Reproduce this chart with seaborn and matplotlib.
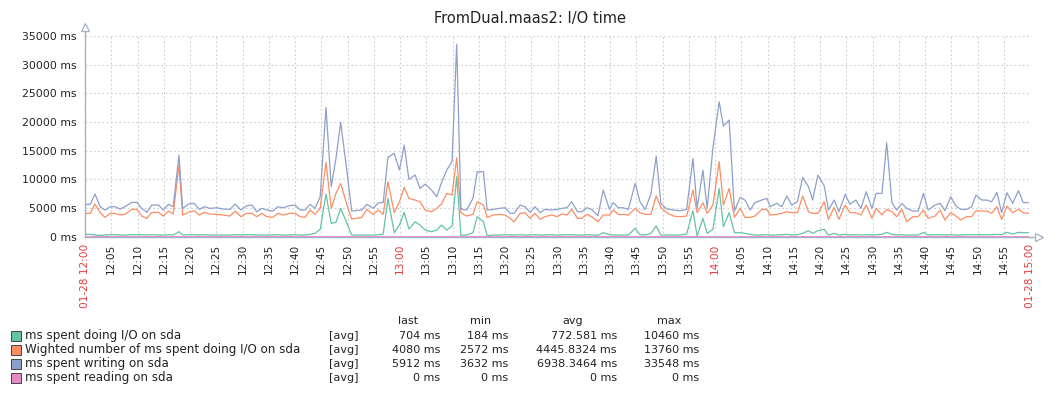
import matplotlib
matplotlib.use("Agg")
import matplotlib.pyplot as plt
from matplotlib.patches import Rectangle
import seaborn as sns
import pandas as pd

# ---------------- data ----------------
minutes = [
    0.0, 1.0, 1.9, 2.9, 3.8, 4.8, 5.7, 6.7, 7.6, 8.9,
    9.9, 10.8, 11.8, 12.7, 14.0, 14.9, 15.9, 16.8, 17.9, 18.6,
    19.7, 20.8, 21.8, 22.7, 23.8, 25.1, 26.3, 27.6, 28.6, 29.7,
    30.8, 31.8, 32.7, 33.7, 34.6, 35.8, 36.7, 37.8, 38.9, 40.0,
    41.0, 41.9, 42.9, 43.8, 44.8, 45.9, 46.9, 47.8, 48.7, 49.9,
    50.8, 52.7, 53.7, 54.9, 55.9, 56.8, 57.7, 58.9, 59.9, 60.8,
    61.7, 62.9, 63.8, 64.8, 66.0, 67.0, 67.9, 68.9, 69.9, 70.8,
    71.6, 72.7, 73.9, 74.7, 75.9, 76.6, 77.8, 78.9, 80.0, 81.0,
    81.7, 82.9, 83.8, 84.8, 85.7, 86.7, 87.6, 88.9, 89.9, 90.8,
    91.8, 92.7, 93.8, 94.6, 95.6, 96.5, 97.7, 98.7, 99.9, 100.6,
    101.6, 102.5, 103.5, 104.8, 105.7, 106.7, 107.8, 108.8, 109.7, 110.8,
    112.1, 113.3, 114.6, 115.8, 116.6, 117.7, 118.5, 119.6, 120.8, 121.6,
    122.7, 123.7, 124.8, 125.7, 126.7, 127.6, 128.9, 129.9, 130.5, 131.8,
    132.7, 133.7, 134.6, 135.7, 136.7, 137.8, 138.6, 139.6, 140.8, 141.6,
    142.7, 143.6, 144.8, 145.7, 146.8, 147.8, 148.8, 149.9, 150.7, 151.8,
    152.7, 153.7, 154.6, 155.6, 156.5, 157.7, 158.7, 159.7, 160.6, 161.9,
    162.9, 163.8, 164.9, 165.9, 166.8, 167.9, 168.9, 169.7, 170.8, 171.8,
    172.7, 173.7, 174.6, 175.6, 176.7, 177.8, 178.7, 179.7,
]

io_ms = [
    410, 410, 290, 230, 290, 350, 350, 290, 290, 350,
    350, 350, 290, 350, 290, 290, 350, 290, 870, 290,
    350, 350, 290, 350, 290, 290, 290, 290, 350, 290,
    350, 350, 290, 290, 290, 290, 350, 290, 290, 350,
    290, 290, 410, 580, 1280, 7440, 2320, 2500, 4940, 2320,
    290, 290, 290, 290, 350, 460, 6680, 700, 2030, 4240,
    1340, 2610, 2030, 1160, 870, 1160, 2030, 1160, 1860, 10460,
    240, 290, 700, 3490, 2610, 184, 290, 290, 350, 290,
    290, 350, 290, 290, 350, 290, 290, 350, 290, 290,
    350, 350, 290, 290, 350, 290, 230, 700, 350, 290,
    290, 290, 290, 1460, 350, 290, 580, 1870, 290, 290,
    290, 290, 460, 4530, 120, 3200, 580, 1280, 8420, 1740,
    4180, 700, 700, 580, 410, 290, 290, 350, 290, 290,
    350, 410, 290, 350, 580, 1050, 580, 1050, 1280, 290,
    580, 290, 410, 290, 350, 290, 350, 290, 350, 410,
    760, 410, 290, 350, 290, 290, 290, 760, 290, 350,
    350, 290, 350, 290, 290, 350, 350, 350, 350, 350,
    350, 410, 350, 760, 470, 760, 700, 704,
]

weighted_ms = [
    4070, 4070, 5690, 4180, 3370, 4070, 4070, 3780, 3890, 4760,
    4760, 3600, 3200, 4240, 4240, 3600, 4470, 3950, 12490, 3780,
    4240, 4530, 3780, 4240, 3950, 3890, 3780, 3600, 4470, 3490,
    4070, 4070, 3490, 4070, 3490, 3370, 4070, 3780, 4070, 4070,
    3490, 3370, 4650, 3890, 4940, 12960, 4940, 7550, 9300, 5520,
    3080, 3370, 4760, 3890, 4650, 3890, 9590, 4180, 6100, 8600,
    6680, 6390, 6100, 4650, 4360, 4940, 5690, 7550, 7260, 13760,
    4180, 3600, 3890, 6100, 5520, 3370, 3780, 3890, 3780, 3200,
    2572, 4070, 4180, 3200, 4070, 3020, 3490, 3780, 3490, 3950,
    3780, 4760, 3200, 3200, 3890, 3490, 2610, 3780, 3780, 4650,
    3890, 3890, 3780, 4940, 4180, 3890, 3890, 7090, 5110, 4180,
    3600, 3490, 3600, 8130, 4180, 5930, 4070, 5520, 13070, 5520,
    8420, 3370, 4940, 3370, 3370, 3600, 4760, 4760, 3780, 3890,
    4070, 4360, 4180, 4180, 7090, 4360, 4070, 4070, 6100, 3020,
    5110, 3020, 5520, 4180, 4180, 3780, 5520, 3200, 4940, 3780,
    4760, 4360, 3490, 4760, 2610, 3490, 3490, 4650, 3200, 3600,
    4650, 2900, 4180, 3600, 2900, 3490, 3490, 4530, 4470, 4470,
    4070, 5230, 3020, 5350, 4180, 4760, 4180, 4080,
]

write_ms = [
    5640, 5640, 7440, 5230, 4650, 5230, 5230, 4820, 5230, 5980,
    5980, 4940, 4240, 5520, 5520, 4650, 5640, 5230, 14230, 4940,
    5690, 5810, 4760, 5230, 4940, 5050, 4820, 4760, 5690, 4650,
    5400, 5520, 4360, 4940, 4650, 4470, 5230, 5050, 5400, 5520,
    4650, 4650, 5640, 4940, 6970, 22540, 8720, 13650, 19930, 11330,
    4470, 4650, 5640, 4940, 5930, 5930, 13830, 14530, 11620, 15980,
    9990, 10750, 8420, 9180, 8130, 6970, 9410, 11620, 13070, 33548,
    4820, 4650, 6680, 11330, 11330, 4650, 4760, 4940, 5050, 4070,
    4070, 5520, 5230, 4240, 5230, 4180, 4760, 4650, 4760, 4940,
    5050, 6100, 4360, 4360, 5050, 4760, 3632, 8130, 4760, 5930,
    5050, 5050, 4760, 9300, 6100, 4760, 7440, 14060, 5810, 4820,
    4650, 4530, 4760, 13650, 4940, 11620, 4940, 15400, 23530, 19290,
    20340, 4470, 6860, 6390, 4650, 5930, 6390, 6680, 5230, 5810,
    5230, 7090, 5520, 6100, 10340, 8720, 6390, 10750, 8890, 4650,
    6390, 4360, 7380, 5640, 6390, 4940, 7840, 4940, 7550, 7550,
    16380, 5930, 4650, 5810, 4940, 4470, 4470, 7550, 4650, 5520,
    5810, 4530, 6970, 5350, 4760, 4760, 5230, 7260, 6390, 6390,
    6100, 7730, 4180, 7670, 5810, 8020, 5980, 5912,
]

read_ms = [0] * len(minutes)

series_names = [
    "ms spent doing I/O on sda",
    "Wighted number of ms spent doing I/O on sda",
    "ms spent writing on sda",
    "ms spent reading on sda",
]

stat_last = ["704 ms", "4080 ms", "5912 ms", "0 ms"]
stat_min = ["184 ms", "2572 ms", "3632 ms", "0 ms"]
stat_avg = ["772.581 ms", "4445.8324 ms", "6938.3464 ms", "0 ms"]
stat_max = ["10460 ms", "13760 ms", "33548 ms", "0 ms"]

y_ticks = [0, 5000, 10000, 15000, 20000, 25000, 30000, 35000]
y_tick_labels = ["0 ms", "5000 ms", "10000 ms", "15000 ms", "20000 ms",
                 "25000 ms", "30000 ms", "35000 ms"]

x_tick_labels = [
    "01-28 12:00", "12:05", "12:10", "12:15", "12:20", "12:25", "12:30",
    "12:35", "12:40", "12:45", "12:50", "12:55", "13:00", "13:05", "13:10",
    "13:15", "13:20", "13:25", "13:30", "13:35", "13:40", "13:45", "13:50",
    "13:55", "14:00", "14:05", "14:10", "14:15", "14:20", "14:25", "14:30",
    "14:35", "14:40", "14:45", "14:50", "14:55", "01-28 15:00",
]
x_ticks = list(range(0, 181, 5))
red_labels = {"01-28 12:00", "13:00", "14:00", "01-28 15:00"}

# ---------------- figure ----------------
sns.set_theme(style="white")
plt.rcParams["font.family"] = ["DejaVu Sans"]

W, H = 1060, 396
fig = plt.figure(figsize=(W / 100, H / 100), dpi=100)
fig.patch.set_facecolor("white")

x0, x1 = 85, 1030
y0, y1 = 236.7, 36.0
ax = fig.add_axes([x0 / W, 1 - y0 / H, (x1 - x0) / W, (y0 - y1) / H])

palette = sns.color_palette("Set2", 4)
frames = []
for name, vals in zip(series_names, [io_ms, weighted_ms, write_ms, read_ms]):
    frames.append(pd.DataFrame({"minute": minutes, "value": vals, "series": name}))
df = pd.concat(frames, ignore_index=True)

widths = [0.9, 0.9, 0.9, 2.0]
for i, name in enumerate(series_names):
    sns.lineplot(data=df[df["series"] == name], x="minute", y="value",
                 color=palette[i], linewidth=widths[i], ax=ax,
                 legend=False, zorder=3 + i)

ax.set_xlim(0, 180)
ax.set_ylim(0, 35000)
ax.set_xticks(x_ticks)
ax.set_xticklabels(x_tick_labels, rotation=90, fontsize=7.6, va="top", ha="center")
ax.set_yticks(y_ticks)
ax.set_yticklabels(y_tick_labels, fontsize=7.8, color="#222222")
ax.set_xlabel("")
ax.set_ylabel("")
for lbl in ax.get_xticklabels():
    lbl.set_color("#e8393c" if lbl.get_text() in red_labels else "#222222")

ax.tick_params(axis="both", length=0)
ax.tick_params(axis="x", pad=5)
ax.tick_params(axis="y", pad=6)

ax.grid(True, linestyle=(0, (1.6, 2.2)), color="#c9d0d8", linewidth=0.8)
ax.set_axisbelow(True)
for s in ["top", "right"]:
    ax.spines[s].set_visible(False)
axis_col = "#a7b0bf"
for s in ["left", "bottom"]:
    ax.spines[s].set_color(axis_col)
    ax.spines[s].set_linewidth(1.0)

# axis extension arrows
ax.plot([0, 0], [35000, 36100], color=axis_col, lw=1.0, clip_on=False, zorder=2)
ax.plot([0], [36500], marker="^", markersize=6, markerfacecolor="white",
        markeredgecolor=axis_col, markeredgewidth=0.9, clip_on=False, zorder=2)
ax.plot([180, 181.3], [0, 0], color=axis_col, lw=1.0, clip_on=False, zorder=2)
ax.plot([181.8], [0], marker=">", markersize=6, markerfacecolor="white",
        markeredgecolor=axis_col, markeredgewidth=0.9, clip_on=False, zorder=2)

# title
fig.text(530 / W, 1 - 19 / H, "FromDual.maas2: I/O time", ha="center", va="center",
         fontsize=10.5, color="#222222")

# legend table
txt_col = "#222222"
fs = 8
hy = 321
fig.text(408 / W, 1 - hy / H, "last", ha="center", va="center", fontsize=fs, color=txt_col)
fig.text(481 / W, 1 - hy / H, "min", ha="center", va="center", fontsize=fs, color=txt_col)
fig.text(573 / W, 1 - hy / H, "avg", ha="center", va="center", fontsize=fs, color=txt_col)
fig.text(669 / W, 1 - hy / H, "max", ha="center", va="center", fontsize=fs, color=txt_col)

row_y = [336, 350, 364, 378]
for i, name in enumerate(series_names):
    yy = row_y[i]
    fig.add_artist(Rectangle((11 / W, 1 - (yy + 5) / H), 10 / W, 10 / H,
                             transform=fig.transFigure, facecolor=palette[i],
                             edgecolor="#444444", linewidth=0.7))
    fy = 1 - yy / H
    fig.text(25 / W, fy, name, ha="left", va="center", fontsize=8.6, color=txt_col)
    fig.text(329 / W, fy, "[avg]", ha="left", va="center", fontsize=fs, color=txt_col)
    fig.text(440 / W, fy, stat_last[i], ha="right", va="center", fontsize=fs, color=txt_col)
    fig.text(508 / W, fy, stat_min[i], ha="right", va="center", fontsize=fs, color=txt_col)
    fig.text(617 / W, fy, stat_avg[i], ha="right", va="center", fontsize=fs, color=txt_col)
    fig.text(699 / W, fy, stat_max[i], ha="right", va="center", fontsize=fs, color=txt_col)

fig.savefig("out.png", dpi=100, facecolor="white")
